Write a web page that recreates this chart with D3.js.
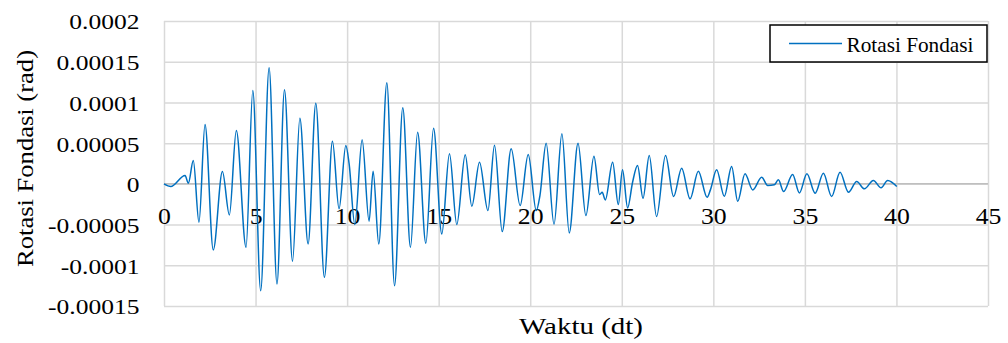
<!DOCTYPE html>
<html>
<head>
<meta charset="utf-8">
<script src="https://cdn.jsdelivr.net/npm/d3@7"></script>
<style>
  body { margin: 0; background: #fff; }
</style>
</head>
<body>
<svg id="chart-svg" width="1008" height="343"></svg>
<script>
// Time (dt) of each turning point
const waktu = [0, 0.37, 1.15, 1.33, 1.60, 1.91, 2.24, 2.69, 3.19, 3.57, 3.95, 4.48, 4.85, 5.28, 5.74,
  6.17, 6.58, 7.02, 7.42, 7.87, 8.29, 8.76, 9.20, 9.56, 9.93, 10.11, 10.42, 10.82, 11.20, 11.42,
  11.73, 12.17, 12.59, 13.04, 13.46, 13.85, 14.30, 14.72, 15.17, 15.59, 15.99, 16.45, 16.81, 17.23,
  17.69, 18.05, 18.47, 18.96, 19.45, 19.89, 20.33, 20.53, 20.87, 21.30, 21.73, 22.13, 22.61, 23.04,
  23.48, 23.79, 23.93, 24.10, 24.50, 24.81, 25.04, 25.32, 25.59, 25.86, 26.16, 26.50, 26.90, 27.39,
  27.83, 28.27, 28.73, 29.18, 29.66, 29.84, 30.18, 30.60, 31.00, 31.33, 31.73, 32.15, 32.64, 32.97,
  33.33, 33.55, 33.84, 34.33, 34.70, 35.11, 35.56, 36.01, 36.46, 36.92, 37.38, 37.83, 38.25, 38.74,
  39.16, 39.52, 40.02];

// Foundation rotation (rad) at those points
const rotasi = [0, -0.33e-5, 1.02e-5, 0.07e-5, 2.86e-5, -4.72e-5, 7.29e-5, -8.11e-5, 1.51e-5, -3.81e-5,
  6.55e-5, -7.79e-5, 11.47e-5, -13.12e-5, 14.26e-5, -12.29e-5, 11.56e-5, -9.49e-5, 8.07e-5, -7.38e-5,
  9.91e-5, -11.48e-5, 5.24e-5, -3.07e-5, 4.71e-5, 2.46e-5, -5.00e-5, 5.41e-5, -4.60e-5, 1.55e-5,
  -7.38e-5, 12.42e-5, -12.50e-5, 9.34e-5, -7.79e-5, 6.34e-5, -7.30e-5, 6.84e-5, -6.15e-5, 3.69e-5,
  -5.00e-5, 3.57e-5, -2.75e-5, 2.66e-5, -3.28e-5, 4.75e-5, -5.86e-5, 4.30e-5, -2.67e-5, 3.60e-5,
  -3.28e-5, -1.44e-5, 4.99e-5, -4.97e-5, 6.15e-5, -6.02e-5, 4.99e-5, -3.90e-5, 3.39e-5, -1.32e-5,
  -1.03e-5, -1.97e-5, 2.66e-5, -2.54e-5, 1.72e-5, -2.95e-5, 0.20e-5, 2.25e-5, -1.77e-5, 3.48e-5,
  -4.02e-5, 3.48e-5, -1.56e-5, 1.92e-5, -1.84e-5, 1.55e-5, -1.65e-5, -0.74e-5, 1.72e-5, -1.52e-5,
  2.13e-5, -2.14e-5, 1.23e-5, -0.74e-5, 0.81e-5, -0.21e-5, -0.12e-5, 0.49e-5, -0.95e-5, 1.14e-5,
  -1.11e-5, 1.23e-5, -1.16e-5, 1.30e-5, -1.56e-5, 1.43e-5, -1.03e-5, 0.28e-5, -0.61e-5, 0.41e-5,
  -0.49e-5, 0.41e-5, -0.33e-5];

const xTicks = [0, 5, 10, 15, 20, 25, 30, 35, 40, 45];
const yTicks = [-0.00015, -0.0001, -0.00005, 0, 0.00005, 0.0001, 0.00015, 0.0002];
const yTickLabels = ["-0.00015", "-0.0001", "-0.00005", "0", "0.00005", "0.0001", "0.00015", "0.0002"];

const seriesName = "Rotasi Fondasi";
const xTitle = "Waktu (dt)";
const yTitle = "Rotasi Fondasi (rad)";

const data = waktu.map((t, i) => ({ t: t, v: rotasi[i] }));

const FONT = "'Liberation Serif'";

const svg = d3.select('#chart-svg');

// Plot area
const margin = { left: 164, right: 20, top: 21, bottom: 37 };
const width = 1008, height = 343;

const xScale = d3.scaleLinear()
  .domain([0, 45])
  .range([margin.left, width - margin.right]);

const yScale = d3.scaleLinear()
  .domain([-0.00015, 0.0002])
  .range([height - margin.bottom, margin.top]);

// Horizontal gridlines
svg.append("g")
  .attr("transform", "translate(" + margin.left + ",0)")
  .call(d3.axisLeft(yScale)
    .tickValues(yTicks)
    .tickSize(-(width - margin.right - margin.left))
    .tickFormat(""))
  .call(g => g.select(".domain").remove())
  .call(g => g.selectAll("line").attr("stroke", "#d9d9d9").attr("stroke-width", 1.5));

// Vertical gridlines
svg.append("g")
  .attr("transform", "translate(0," + margin.top + ")")
  .call(d3.axisTop(xScale)
    .tickValues(xTicks)
    .tickSize(-(height - margin.bottom - margin.top))
    .tickFormat(""))
  .call(g => g.select(".domain").remove())
  .call(g => g.selectAll("line").attr("stroke", "#d9d9d9").attr("stroke-width", 1.5));

// Zero axis line
svg.append("line")
  .attr("x1", xScale(0)).attr("x2", xScale(45))
  .attr("y1", yScale(0)).attr("y2", yScale(0))
  .attr("stroke", "#bfbfbf")
  .attr("stroke-width", 1.5);

// Y axis labels (the picture's text is a little wider than the font, hence the x-scale)
svg.append("g")
  .attr("transform", "translate(139.5,0)")
  .call(d3.axisLeft(yScale)
    .tickValues(yTicks)
    .tickSize(0)
    .tickPadding(0)
    .tickFormat((d, i) => yTickLabels[i]))
  .call(g => g.select(".domain").remove())
  .call(g => g.selectAll("text")
    .style("font-family", FONT)
    .style("font-size", "22px")
    .attr("fill", "#000")
    .attr("x", 0)
    .attr("dy", "0.36em")
    .attr("transform", "scale(1.16,1)"));

// X axis labels (sitting under the zero line)
svg.append("g")
  .attr("transform", "translate(0," + yScale(0) + ")")
  .call(d3.axisBottom(xScale)
    .tickValues(xTicks)
    .tickSize(0)
    .tickPadding(40)
    .tickFormat(d3.format("d")))
  .call(g => g.select(".domain").remove())
  .call(g => g.selectAll("text")
    .style("font-family", FONT)
    .style("font-size", "23px")
    .attr("fill", "#000")
    .attr("dy", 0)
    .attr("transform", "scale(1.12,1)"));

// The line
svg.append("path")
  .datum(data)
  .attr("fill", "none")
  .attr("stroke", "#0070C0")
  .attr("stroke-width", 1.5)
  .attr("d", d3.line()
    .curve(d3.curveMonotoneX)
    .x(d => xScale(d.t))
    .y(d => yScale(d.v)));

// Axis titles
svg.append("text")
  .attr("x", 519)
  .attr("y", 334)
  .attr("textLength", 124)
  .attr("lengthAdjust", "spacingAndGlyphs")
  .style("font-family", FONT)
  .style("font-size", "24px")
  .text(xTitle);

svg.append("text")
  .attr("transform", "translate(33,267) rotate(-90)")
  .attr("textLength", 217)
  .attr("lengthAdjust", "spacingAndGlyphs")
  .style("font-family", FONT)
  .style("font-size", "24px")
  .text(yTitle);

// Legend
const legend = svg.append("g");
legend.append("rect")
  .attr("x", 770).attr("y", 25)
  .attr("width", 217).attr("height", 37)
  .attr("fill", "#fff")
  .attr("stroke", "#000")
  .attr("stroke-width", 1.5);
legend.append("line")
  .attr("x1", 789).attr("x2", 842)
  .attr("y1", 43.5).attr("y2", 43.5)
  .attr("stroke", "#0070C0")
  .attr("stroke-width", 1.5);
legend.append("text")
  .attr("x", 846.5).attr("y", 51.5)
  .attr("textLength", 127)
  .attr("lengthAdjust", "spacingAndGlyphs")
  .style("font-family", FONT)
  .style("font-size", "21px")
  .text(seriesName);
</script>
</body>
</html>
